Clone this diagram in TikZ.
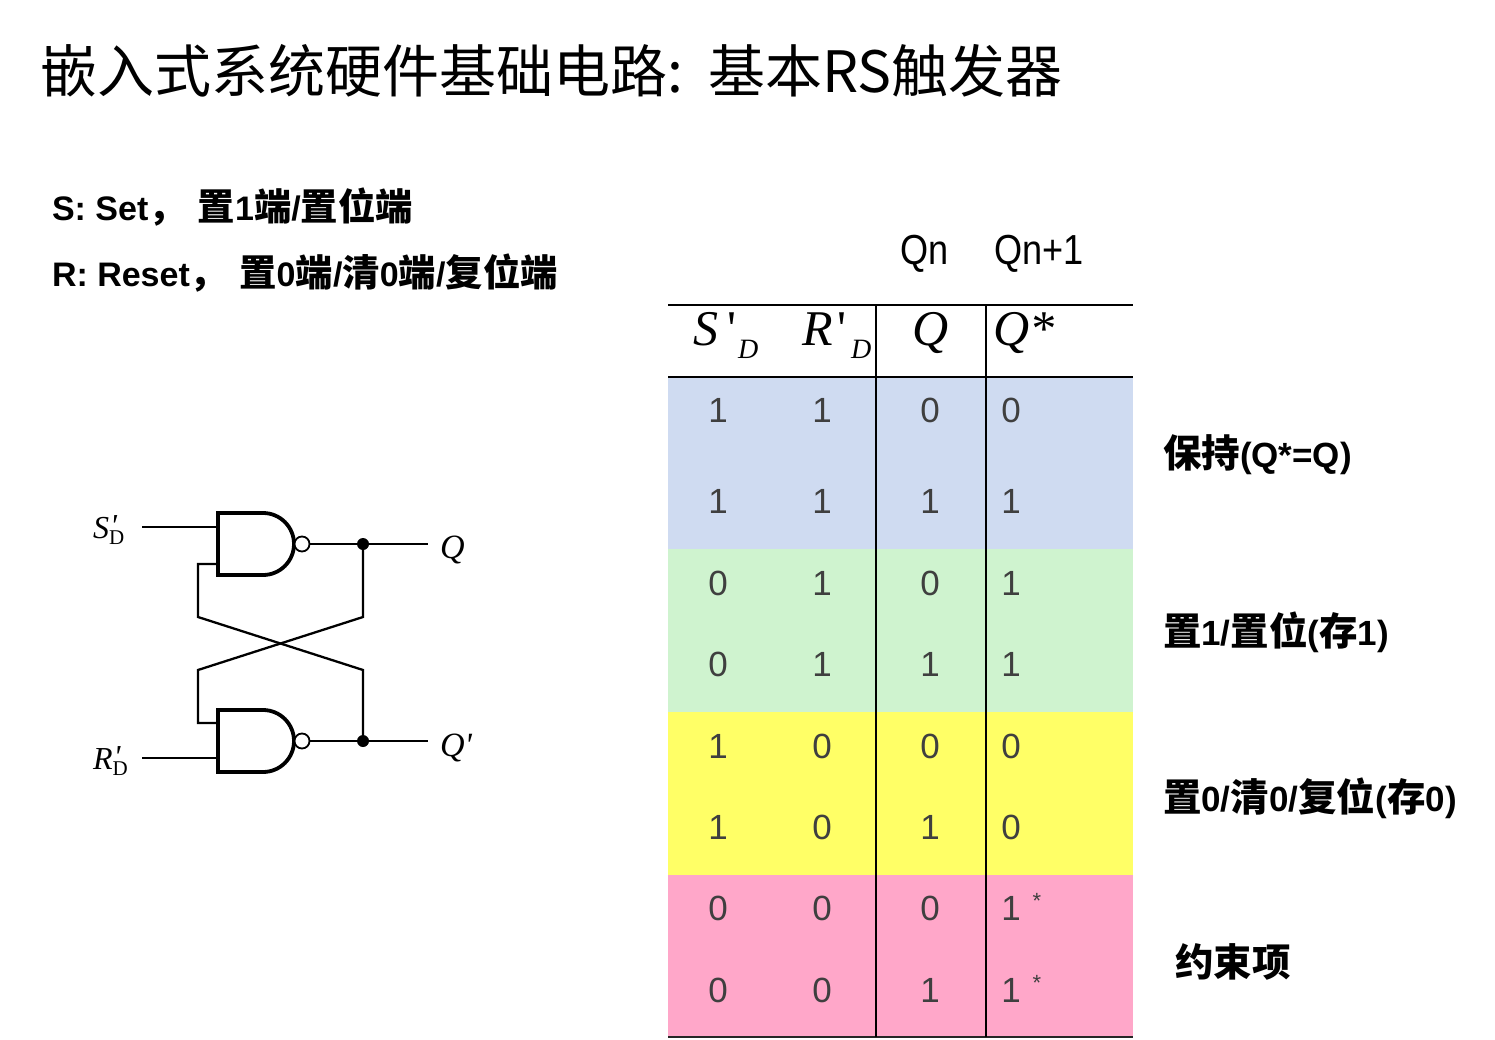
\documentclass[tikz,border=0pt]{standalone}
\usepackage{fontspec}
\setmainfont{Liberation Sans}
\newfontfamily\cjk{Noto Sans CJK SC}
\newfontfamily\cjkb[Scale=1.1]{Noto Sans CJK SC}
\newfontfamily\tms{Liberation Serif}
\newcommand\setfs[1]{\fontsize{#1}{#1}\selectfont}
\newcommand\zh[1]{{\cjkb\bfseries #1}}
\newcommand\circlab[2]{{\tms\setfs{32}\itshape #1\rlap{\raisebox{2pt}{\kern1pt\textquotesingle}}\raisebox{-6pt}{\upshape\setfs{21}#2}}}
\definecolor{rowblue}{HTML}{CFDBF1}
\definecolor{rowgreen}{HTML}{CFF3CF}
\definecolor{rowyellow}{HTML}{FFFF66}
\definecolor{rowpink}{HTML}{FFA7C9}
\definecolor{digit}{HTML}{3F3F3F}
\begin{document}
\begin{tikzpicture}[x=1pt,y=-1pt,
  every node/.style={inner sep=0pt,outer sep=0pt},
  wire/.style={line width=2.3pt,line join=miter},
  gate/.style={line width=3.8pt,line join=miter},
  dig/.style={anchor=base,text=digit,font=\setfs{35}},
  lab/.style={anchor=west,font=\setfs{35}\bfseries},
  hdr/.style={anchor=base west,font=\tms\setfs{50}\itshape},
  hsub/.style={anchor=base west,font=\tms\setfs{28}\itshape},
  qhead/.style={anchor=base west,font=\setfs{42}},
  dotnode/.style={circle,fill=black,minimum size=12pt},
  bubble/.style={circle,draw=black,line width=1.8pt,fill=white,minimum size=15pt}]
\useasboundingbox (0,0) rectangle (1495,1040);
\fill[white] (0,0) rectangle (1495,1040);

% ---------- title ----------
\node[anchor=base west,font=\cjk\setfs{57}] (title1) at (40,93) {嵌入式系统硬件基础电路:};
\node[anchor=base west,font=\cjk\setfs{57}] (title2) at (708,93) {基本RS触发器};

% ---------- S / R description ----------
\node[anchor=base west,font=\setfs{34}\bfseries] (sline) at (52,221) {S: Set\zh{，}\hspace{12pt}\zh{置}1\zh{端}/\zh{置位端}};
\node[anchor=base west,font=\setfs{34}\bfseries] (rline) at (52,287) {R: Reset\zh{，}\hspace{12pt}\zh{置}0\zh{端}/\zh{清}0\zh{端}/\zh{复位端}};

% ---------- circuit ----------
\draw[gate] (218,513) -- (263,513) arc[start angle=90,end angle=-90,radius=31pt] -- (218,575) -- cycle;
\draw[gate] (218,710) -- (263,710) arc[start angle=90,end angle=-90,radius=31pt] -- (218,772) -- cycle;
\node[bubble] (b1) at (302,544) {};
\node[bubble] (b2) at (302,741) {};
\coordinate (sin) at (142,527);
\coordinate (g1a) at (218,527);
\coordinate (g1b) at (218,564);
\coordinate (rin) at (142,758);
\coordinate (g2a) at (218,723);
\coordinate (g2b) at (218,758);
\node[dotnode] (dq) at (363,544) {};
\node[dotnode] (dqn) at (363,741) {};
\coordinate (qend) at (428,544);
\coordinate (qnend) at (428,741);
\coordinate (k1) at (363,617);
\coordinate (k2) at (198,670);
\coordinate (k3) at (198,723);
\coordinate (m1) at (363,670);
\coordinate (m2) at (198,617);
\coordinate (m3) at (198,564);
\draw[wire] (sin) -- (g1a);
\draw[wire] (rin) -- (g2b);
\draw[wire] (b1.east) -- (dq.center) -- (qend);
\draw[wire] (b2.east) -- (dqn.center) -- (qnend);
\draw[wire] (dq.center) -- (k1) -- (k2) -- (k3) -- (g2a);
\draw[wire] (dqn.center) -- (m1) -- (m2) -- (m3) -- (g1b);
\node[anchor=base west] (slab) at (93,538) {\circlab{S}{D}};
\node[anchor=base west] (rlab) at (93,769) {\circlab{R}{D}};
\node[anchor=base west,font=\tms\setfs{34}\itshape] (qlab) at (440,558) {Q};
\node[anchor=base west,font=\tms\setfs{34}\itshape] (qnlab) at (440,756) {Q\textquotesingle};

% ---------- table ----------
\fill[rowblue] (668,377) rectangle (1133,549);
\fill[rowgreen] (668,549) rectangle (1133,712);
\fill[rowyellow] (668,712) rectangle (1133,875);
\fill[rowpink] (668,875) rectangle (1133,1037);
\draw[line width=2pt] (668,305) -- (1133,305);
\draw[line width=2.6pt] (668,377) -- (1133,377);
\draw[line width=2pt,draw=black!85] (668,1037) -- (1133,1037);
\draw[line width=2pt] (876,305) -- (876,1037);
\draw[line width=2pt] (986,305) -- (986,1037);

% header
\node[qhead] (qn) at (900,265) {\scalebox{0.86}[1]{Qn}};
\node[qhead] (qp) at (994,265) {\scalebox{0.86}[1]{Qn+1}};
\node[hdr] (hs) at (693,345) {S};
\node[anchor=base west,font=\tms\setfs{50}] (hsp) at (727,345) {\textquotesingle};
\node[hsub] (hsd) at (738,358) {D};
\node[hdr] (hr) at (802,345) {R};
\node[anchor=base west,font=\tms\setfs{50}] (hrp) at (837,345) {\textquotesingle};
\node[hsub] (hrd) at (851,358) {D};
\node[hdr] (hq) at (912,345) {Q};
\node[hdr] (hqs) at (993,345) {Q*};

% digits
\foreach \y/\a/\b/\c/\d [count=\i] in {410/1/1/0/0,501/1/1/1/1,583/0/1/0/1,664/0/1/1/1,746/1/0/0/0,827/1/0/1/0,908/0/0/0/1,990/0/0/1/1}{
  \node[dig] (ca\i) at (718,\y+12.5) {\a};
  \node[dig] (cb\i) at (822,\y+12.5) {\b};
  \node[dig] (cc\i) at (930,\y+12.5) {\c};
  \node[dig] (cd\i) at (1011,\y+12.5) {\d};
}
\node[anchor=base,text=digit,font=\setfs{22}] (st1) at (1037,908) {*};
\node[anchor=base,text=digit,font=\setfs{22}] (st2) at (1037,990) {*};

% right labels
\node[lab] (l1) at (1163,455) {\zh{保持}(Q*=Q)};
\node[lab] (l2) at (1163,632) {\zh{置}1/\zh{置位}(\zh{存}1)};
\node[lab] (l3) at (1163,798) {\zh{置}0/\zh{清}0/\zh{复位}(\zh{存}0)};
\node[lab] (l4) at (1175,962) {\zh{约束项}};
\end{tikzpicture}
\end{document}
